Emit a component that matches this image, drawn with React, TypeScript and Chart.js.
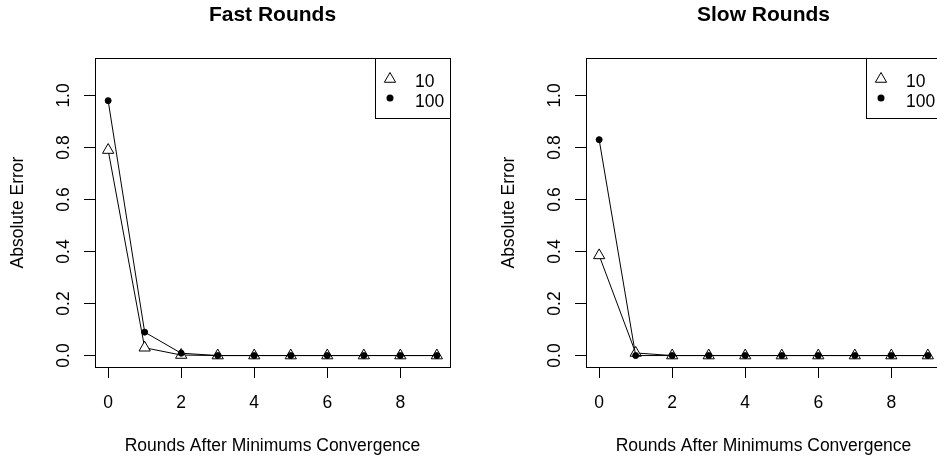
import React, { useEffect, useRef } from "react";
import { Chart, registerables } from "chart.js";

Chart.register(...registerables);

// ---- data ----
const rounds = [0, 1, 2, 3, 4, 5, 6, 7, 8, 9];
const fast10 = [0.79, 0.03, 0.002, 0, 0, 0, 0, 0, 0, 0];
const fast100 = [0.98, 0.09, 0.009, 0, 0, 0, 0, 0, 0, 0];
const slow10 = [0.385, 0.01, 0, 0, 0, 0, 0, 0, 0, 0];
const slow100 = [0.83, 0, 0, 0, 0, 0, 0, 0, 0, 0];
const seriesLabels = ["10", "100"];
const panelTitles = ["Fast Rounds", "Slow Rounds"];
const xTicks = [0, 2, 4, 6, 8];
const yTicks = [0, 0.2, 0.4, 0.6, 0.8, 1.0];
const xRange = [-0.36, 9.36];
const yRange = [-0.044, 1.144];
const xTitle = "Rounds After Minimums Convergence";
const yTitle = "Absolute Error";

const FONT = '"Liberation Sans", Arial, Helvetica, sans-serif';
const CW = 492;
const CH = 459;

function makeDecor(title: string) {
  return {
    id: "rdecor",
    afterDraw(chart: any) {
      const ctx: CanvasRenderingContext2D = chart.ctx;
      const { left, right, top, bottom } = chart.chartArea;
      const xs = chart.scales.x;
      const ys = chart.scales.y;
      ctx.save();
      ctx.strokeStyle = "#000";
      ctx.fillStyle = "#000";
      ctx.lineWidth = 1;
      // box
      ctx.strokeRect(Math.round(left) + 0.5, Math.round(top) + 0.5, Math.round(right - left), Math.round(bottom - top));
      // title
      ctx.font = `bold 21px ${FONT}`;
      ctx.textAlign = "center";
      ctx.textBaseline = "alphabetic";
      ctx.fillText(title, (left + right) / 2, top - 37);
      // x tick labels
      ctx.font = `17.5px ${FONT}`;
      for (const v of xTicks) {
        ctx.fillText(String(v), xs.getPixelForValue(v), bottom + 41);
      }
      // x title
      ctx.fillText(xTitle, (left + right) / 2, bottom + 84);
      // y tick labels (rotated)
      for (const v of yTicks) {
        ctx.save();
        ctx.translate(left - 26, ys.getPixelForValue(v));
        ctx.rotate(-Math.PI / 2);
        ctx.textAlign = "center";
        ctx.fillText(v.toFixed(1), 0, 0);
        ctx.restore();
      }
      // y title
      ctx.save();
      ctx.translate(left - 72, (top + bottom) / 2);
      ctx.rotate(-Math.PI / 2);
      ctx.textAlign = "center";
      ctx.fillText(yTitle, 0, 0);
      ctx.restore();
      // legend
      const lx = Math.round(right) - 75;
      const ly = Math.round(top);
      ctx.fillStyle = "#fff";
      ctx.fillRect(lx, ly, 75, 60);
      ctx.fillStyle = "#000";
      ctx.strokeRect(lx + 0.5, ly + 0.5, 75, 60);
      const sx = lx + 15;
      const r = 6.5;
      const ty = ly + 21;
      ctx.beginPath();
      ctx.moveTo(sx, ty - r);
      ctx.lineTo(sx + 0.866 * r, ty + r / 2);
      ctx.lineTo(sx - 0.866 * r, ty + r / 2);
      ctx.closePath();
      ctx.stroke();
      ctx.beginPath();
      ctx.arc(sx, ly + 40, 3.5, 0, Math.PI * 2);
      ctx.fill();
      ctx.textAlign = "left";
      ctx.fillText(seriesLabels[0], lx + 40, ly + 29);
      ctx.fillText(seriesLabels[1], lx + 40, ly + 48.5);
      ctx.restore();
    },
  };
}

function Panel({ title, s10, s100, left }: { title: string; s10: number[]; s100: number[]; left: number }) {
  const ref = useRef<HTMLCanvasElement>(null);
  useEffect(() => {
    if (!ref.current) return;
    const gridOpts = {
      drawOnChartArea: false,
      drawTicks: true,
      tickLength: 11,
      color: "#000",
      tickColor: "#000",
      lineWidth: 1,
      tickWidth: 1,
    };
    const chart = new Chart(ref.current, {
      type: "line",
      data: {
        datasets: [
          {
            label: seriesLabels[0],
            data: rounds.map((x, i) => ({ x, y: s10[i] })),
            borderColor: "#000",
            borderWidth: 1,
            pointStyle: "triangle",
            pointRadius: 6.5,
            pointBackgroundColor: "#fff",
            pointBorderColor: "#000",
            pointBorderWidth: 1,
            tension: 0,
            fill: false,
            order: 2,
          },
          {
            label: seriesLabels[1],
            data: rounds.map((x, i) => ({ x, y: s100[i] })),
            borderColor: "#000",
            borderWidth: 1,
            pointStyle: "circle",
            pointRadius: 3,
            pointBackgroundColor: "#000",
            pointBorderColor: "#000",
            pointBorderWidth: 1,
            tension: 0,
            fill: false,
            order: 1,
          },
        ],
      },
      options: {
        animation: false,
        responsive: false,
        devicePixelRatio: 1,
        events: [],
        layout: { padding: { left: 0, right: 42, top: 58, bottom: 0 } },
        plugins: { legend: { display: false }, tooltip: { enabled: false }, title: { display: false } },
        scales: {
          x: {
            type: "linear",
            min: xRange[0],
            max: xRange[1],
            afterBuildTicks: (s: any) => {
              s.ticks = xTicks.map((v) => ({ value: v }));
            },
            afterFit: (s: any) => {
              s.height = 92;
            },
            ticks: { display: false },
            grid: gridOpts,
            border: { display: false },
          },
          y: {
            type: "linear",
            min: yRange[0],
            max: yRange[1],
            afterBuildTicks: (s: any) => {
              s.ticks = yTicks.map((v) => ({ value: v }));
            },
            afterFit: (s: any) => {
              s.width = 95;
            },
            ticks: { display: false },
            grid: gridOpts,
            border: { display: false },
          },
        },
      } as any,
      plugins: [makeDecor(title)],
    });
    return () => chart.destroy();
  }, []);
  return (
    <canvas
      ref={ref}
      width={CW}
      height={CH}
      style={{ position: "absolute", left, top: 0, width: CW, height: CH }}
    />
  );
}

export default function App() {
  return (
    <div
      style={{
        position: "fixed",
        left: 0,
        top: 0,
        width: 937,
        height: 459,
        overflow: "hidden",
        background: "#fff",
      }}
    >
      <Panel title={panelTitles[0]} s10={fast10} s100={fast100} left={0} />
      <Panel title={panelTitles[1]} s10={slow10} s100={slow100} left={491} />
    </div>
  );
}
